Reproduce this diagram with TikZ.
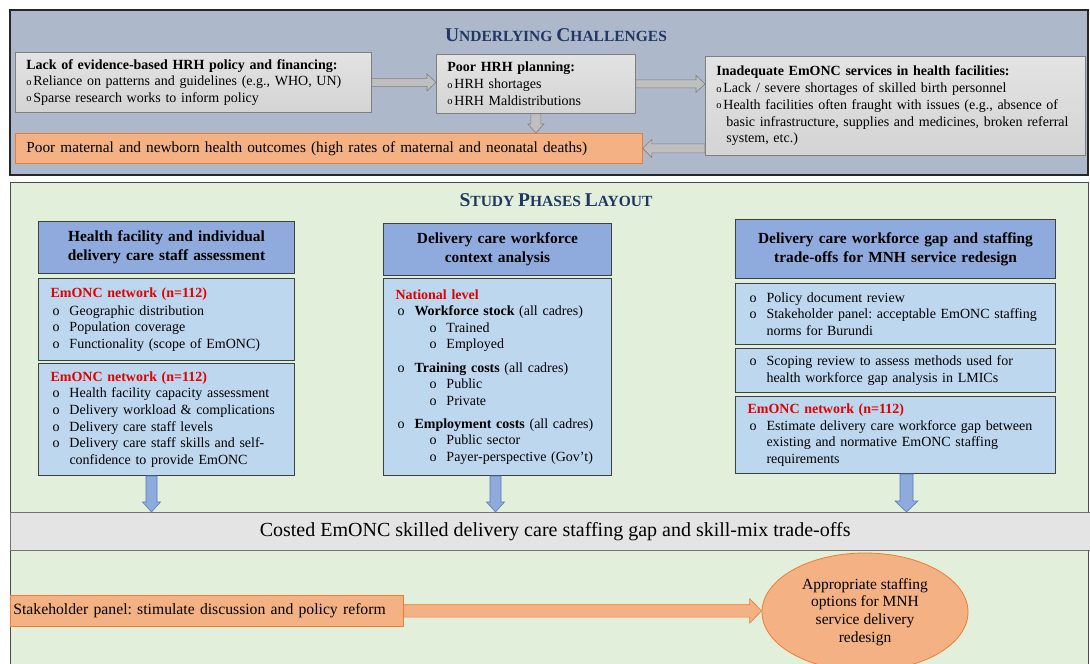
\documentclass[tikz,border=0pt]{standalone}
\usepackage{fontspec}
\setmainfont{Liberation Serif}
\usetikzlibrary{shapes,arrows,positioning,calc}
\definecolor{topbg}{HTML}{ADB9CA}
\definecolor{lowbg}{HTML}{E2EFDA}
\definecolor{greyfill}{HTML}{BFBFBF}
\definecolor{greyline}{HTML}{7F7F7F}
\definecolor{outcome}{HTML}{F4B183}
\definecolor{outline}{HTML}{ED7D31}
\definecolor{headblue}{HTML}{8FAADC}
\definecolor{bodyblue}{HTML}{BDD7EE}
\definecolor{arrowline}{HTML}{5B7DB8}
\definecolor{titleblue}{HTML}{1F3864}
\definecolor{netred}{HTML}{E00000}
\definecolor{bandgrey}{HTML}{E4E4E4}

\newcommand{\tbul}{\makebox[7pt][l]{\raisebox{0.6pt}{\fontsize{10.5}{10.5}\selectfont o}}}
\newcommand{\bul}{\makebox[19pt][l]{\hspace{2pt}o}}
\newcommand{\subbul}{\hspace*{32pt}\bul}
\newcommand{\capsword}[2]{{\fontsize{19.5}{19.5}\selectfont #1}{\fontsize{15.5}{15.5}\selectfont #2}}
\newcommand{\redtitle}[1]{{\color{netred}\bfseries #1}}
\newcommand{\harrow}[6]{%
  \path[#3] let \p1=(#1), \p2=(#2), \n1={\x2-(#6)} in
    (\x1,\y1+#4) -- (\n1,\y1+#4) -- (\n1,\y1+#5) -- (\x2,\y1)
    -- (\n1,\y1-#5) -- (\n1,\y1-#4) -- (\x1,\y1-#4) -- cycle;}
\newcommand{\varrow}[6]{%
  \path[#3] let \p1=(#1), \p2=(#2), \n1={\y2-(#6)} in
    (\x1-#4,\y1) -- (\x1-#4,\n1) -- (\x1-#5,\n1) -- (\x1,\y2)
    -- (\x1+#5,\n1) -- (\x1+#4,\n1) -- (\x1+#4,\y1) -- cycle;}

\begin{document}
\frenchspacing
\begin{tikzpicture}[x=1pt, y=-1pt,
  textbox/.style={line width=0.8pt, anchor=north west, inner xsep=11pt, inner ysep=0pt, align=left, font=\fontsize{14}{16.7}\selectfont},
  graybox/.style={textbox, draw=greyline, top color=gray!22, bottom color=gray!34},
  orangebox/.style={textbox, draw=outline, fill=outcome},
  headbox/.style={draw=black!75, fill=headblue, line width=1pt, anchor=north west, inner xsep=5pt, inner ysep=0pt, align=center, font=\fontsize{15.4}{19.3}\selectfont\bfseries},
  bodybox/.style={draw=black!75, fill=bodyblue, line width=1pt, anchor=north west, inner xsep=12pt, inner ysep=0pt, align=left, font=\fontsize{14}{16.6}\selectfont},
  greyarrow/.style={draw=greyline, fill=greyfill, line width=0.6pt},
  bluearrow/.style={draw=arrowline, fill=headblue, line width=0.6pt},
  orangearrow/.style={draw=outline, fill=outcome, line width=0.6pt},
  paneltitle/.style={font=\fontsize{15.5}{15.5}\selectfont\bfseries, text=titleblue, anchor=base, inner sep=0pt}]
  \useasboundingbox (0,0) rectangle (1090,664);
  \clip (0,0) rectangle (1090,664);
  \fill[white] (0,0) rectangle (1090,664);
  \draw[fill=topbg, draw=black!85, line width=1.5pt] (10,10) rectangle (1088,175);
  \draw[fill=lowbg, draw=black!70, line width=1pt] (10,182) rectangle (1088,680);

  \node[paneltitle] (challenges) at (556,41.7) {\capsword{U}{NDERLYING} \capsword{C}{HALLENGES}};
  \node[graybox, text width=334pt, minimum height=60] (lack) at (15,52) {\textbf{Lack of evidence-based HRH policy and financing:}\\
    \tbul Reliance on patterns and guidelines (e.g., WHO, UN)\\
    \tbul Sparse research works to inform policy};
  \node[graybox, text width=177pt, minimum height=59] (plan) at (436,54) {\textbf{Poor HRH planning:}\\
    \tbul HRH shortages\\
    \tbul HRH Maldistributions};
  \node[graybox, text width=358pt, minimum height=99] (inad) at (705,56) {\textbf{Inadequate EmONC services in health facilities:}\\
    \tbul Lack / severe shortages of skilled birth personnel\\
    \tbul Health facilities often fraught with issues (e.g., absence of\\
    \hspace*{10pt}basic infrastructure, supplies and medicines, broken referral\\
    \hspace*{10pt}system, etc.)};
  \node[orangebox, text width=605pt, minimum height=30, font=\fontsize{15.3}{16}\selectfont] (outc) at (15,133) {Poor maternal and newborn health outcomes (high rates of maternal and neonatal deaths)};
  \harrow{lack.east}{plan.west}{greyarrow}{4pt}{8.5pt}{9pt}
  \harrow{plan.east}{inad.west}{greyarrow}{4pt}{8.5pt}{9pt}
  \varrow{plan.south}{outc.north}{greyarrow}{5pt}{8pt}{-9pt}
  \harrow{inad.west |- outc.east}{outc.east}{greyarrow}{4.5pt}{9pt}{-9pt}

  \node[paneltitle] (phases) at (556,206.7) {\capsword{S}{TUDY} \capsword{P}{HASES} \capsword{L}{AYOUT}};
  \node[headbox, text width=246pt, minimum height=52] (c1h) at (38,221) {Health facility and individual\\delivery care staff assessment};
  \node[bodybox, text width=232pt, minimum height=82] (c1a) at (38,278) {\redtitle{EmONC network (n=112)}\\[1.5pt]
    \bul Geographic distribution\\
    \bul Population coverage\\
    \bul Functionality (scope of EmONC)};
  \node[bodybox, text width=232pt, minimum height=112] (c1b) at (38,363) {\redtitle{EmONC network (n=112)}\\
    \bul Health facility capacity assessment\\
    \bul Delivery workload \& complications\\
    \bul Delivery care staff levels\\
    \bul Delivery care staff skills and self-\\
    \hspace*{19pt}confidence to provide EmONC};

  \node[headbox, text width=218pt, minimum height=52] (c2h) at (383,223) {Delivery care workforce\\context analysis};
  \node[bodybox, text width=204pt, minimum height=197] (c2a) at (383,278) {\redtitle{National level}\\
    \bul\textbf{Workforce stock} (all cadres)\\
    \subbul Trained\\
    \subbul Employed\\[6.5pt]
    \bul\textbf{Training costs} (all cadres)\\
    \subbul Public\\
    \subbul Private\\[6.5pt]
    \bul\textbf{Employment costs} (all cadres)\\
    \subbul Public sector\\
    \subbul Payer-perspective (Gov’t)};

  \node[headbox, text width=310pt, minimum height=59] (c3h) at (735,219) {Delivery care workforce gap and staffing\\trade-offs for MNH service redesign};
  \node[bodybox, text width=296pt, minimum height=61] (c3a) at (735,283) {\bul Policy document review\\
    \bul Stakeholder panel: acceptable EmONC staffing\\
    \hspace*{19pt}norms for Burundi};
  \node[bodybox, text width=296pt, minimum height=44] (c3b) at (735,348) {\bul Scoping review to assess methods used for\\
    \hspace*{19pt}health workforce gap analysis in LMICs};
  \node[bodybox, text width=296pt, minimum height=77] (c3c) at (735,396) {\redtitle{EmONC network (n=112)}\\
    \bul Estimate delivery care workforce gap between\\
    \hspace*{19pt}existing and normative EmONC staffing\\
    \hspace*{19pt}requirements};

  \node[draw=black!55, fill=bandgrey, anchor=north west, minimum width=1090, minimum height=38, inner sep=0pt, font=\fontsize{20}{20}\selectfont] (gap) at (10,512) {Costed EmONC skilled delivery care staffing gap and skill-mix trade-offs};
  \varrow{[xshift=-15pt]c1b.south}{gap.north}{bluearrow}{5.5pt}{9pt}{-10pt}
  \varrow{[xshift=-2pt]c2a.south}{gap.north}{bluearrow}{5.5pt}{9pt}{-10pt}
  \varrow{[xshift=11pt]c3c.south}{gap.north}{bluearrow}{6.5pt}{11.5pt}{-11pt}

  \node[orangebox, text width=387pt, minimum height=31, inner xsep=3pt, font=\fontsize{15.7}{16}\selectfont] (stake) at (10,595) {Stakeholder panel: stimulate discussion and policy reform};
  \node[ellipse, draw=outline, fill=outcome, line width=0.8pt, minimum width=206, minimum height=118, inner sep=0pt, align=center, font=\fontsize{15.5}{17.8}\selectfont] (opts) at (865,612) {Appropriate staffing\\options for MNH\\service delivery\\redesign};
  \harrow{stake.east}{opts.west}{orangearrow}{6.2pt}{12.3pt}{12pt}
\end{tikzpicture}
\end{document}
